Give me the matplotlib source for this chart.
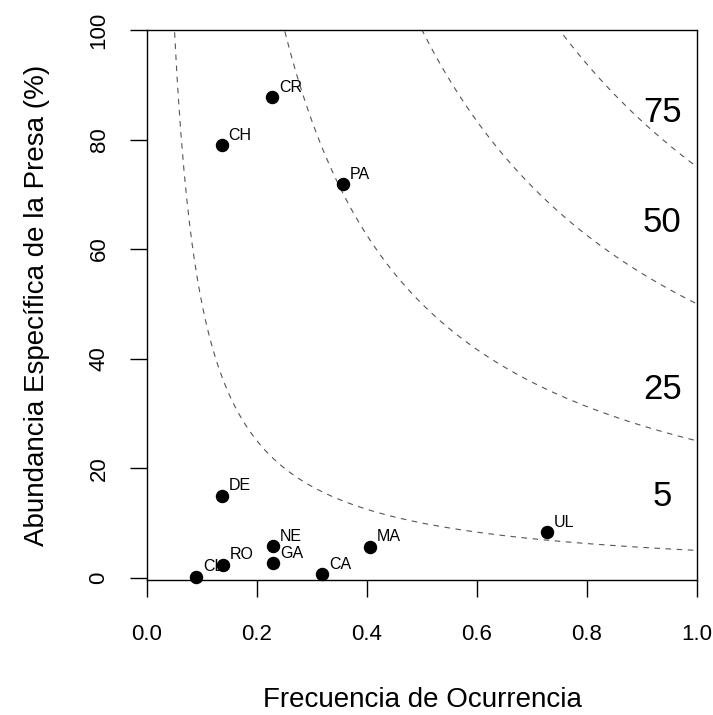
import numpy as np
import matplotlib
matplotlib.use("Agg")
import matplotlib.pyplot as plt

plt.rcParams['font.family'] = ['Liberation Sans', 'DejaVu Sans']

# presas: frecuencia de ocurrencia y abundancia especifica (%)
presas = ['CR', 'CH', 'PA', 'DE', 'NE', 'GA', 'RO', 'CL', 'CA', 'MA', 'UL']
frec = [0.227, 0.136, 0.356, 0.136, 0.229, 0.229, 0.138, 0.089, 0.318, 0.405, 0.727]
abund = [87.8, 79.0, 71.9, 15.0, 5.8, 2.7, 2.4, 0.2, 0.7, 5.7, 8.4]

# isolineas de importancia (abundancia x frecuencia)
niveles = [5, 25, 50, 75]
etiq_x = [0.937, 0.937, 0.937, 0.937]
etiq_y = [14.8, 34.3, 64.8, 85.0]

fig = plt.figure(figsize=(7.13, 7.15), dpi=100)
ax = fig.add_axes([147/713, 135/715, 550/713, 550/715])

xx = np.linspace(0.01, 1.0, 400)
for k in niveles:
    ax.plot(xx, k / xx, color='#555555', lw=0.8, ls=(0, (5, 5)))

for k, tx, ty in zip(niveles, etiq_x, etiq_y):
    ax.text(tx, ty, str(k), fontsize=25, ha='center', va='center')

ax.scatter(frec, abund, s=75, color='black', zorder=3, clip_on=False)
for nom, x, y in zip(presas, frec, abund):
    ax.annotate(nom, (x, y), xytext=(5, 7), textcoords='offset points',
                fontsize=11.5, ha='left', va='center')

ax.set_xlim(0, 1.0)
ax.set_ylim(-0.4, 100)
ax.set_xticks([0.0, 0.2, 0.4, 0.6, 0.8, 1.0])
ax.set_xticklabels(['0.0', '0.2', '0.4', '0.6', '0.8', '1.0'])
ax.set_yticks([0, 20, 40, 60, 80, 100])
ax.tick_params(length=12, width=1, labelsize=16)
ax.tick_params(axis='x', pad=20)
ax.tick_params(axis='y', pad=15)
for lab in ax.get_yticklabels():
    lab.set_rotation(90)
    lab.set_va('center')
for s in ax.spines.values():
    s.set_linewidth(1)

ax.set_xlabel('Frecuencia de Ocurrencia', fontsize=20, labelpad=30)
ax.set_ylabel('Abundancia Específica de la Presa (%)', fontsize=20, labelpad=28)

fig.savefig('out.png', dpi=100)
